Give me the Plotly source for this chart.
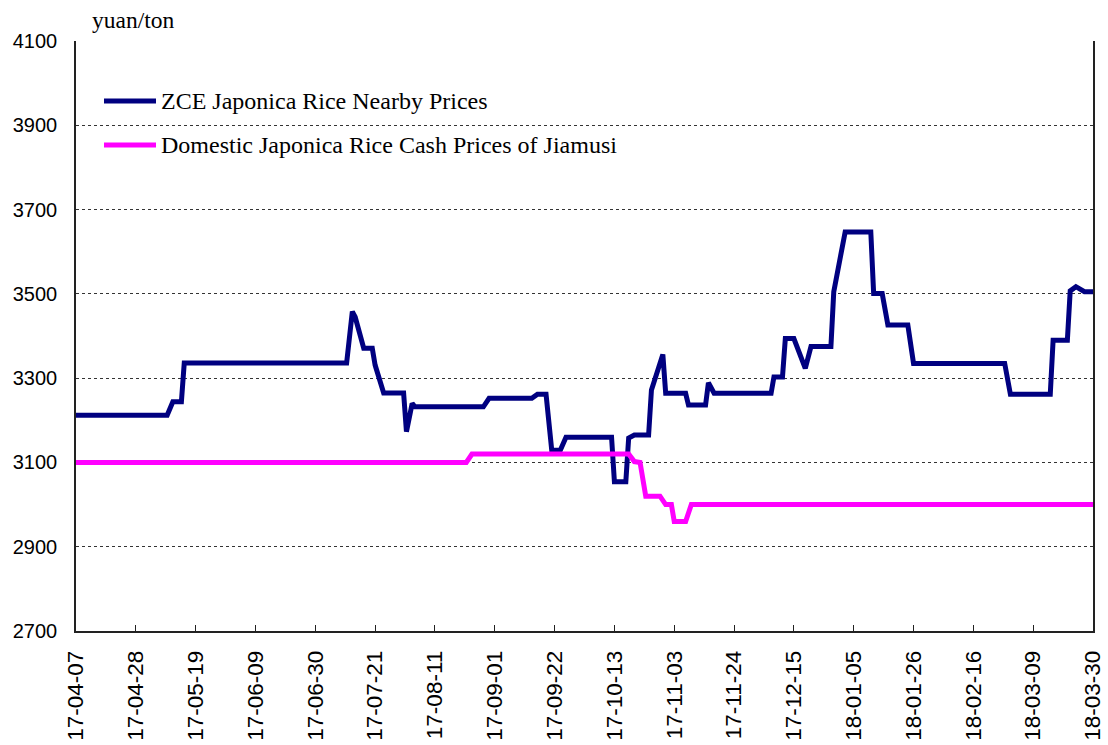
import plotly.graph_objects as go
from datetime import date, timedelta

# ---- data ----
zce_dates = [
    "2017-04-07", "2017-05-09", "2017-05-11", "2017-05-14", "2017-05-15",
    "2017-07-11", "2017-07-13", "2017-07-14", "2017-07-17", "2017-07-20",
    "2017-07-21", "2017-07-24", "2017-07-31", "2017-08-01", "2017-08-03",
    "2017-08-04", "2017-08-28", "2017-08-30", "2017-09-14", "2017-09-16",
    "2017-09-19", "2017-09-21", "2017-09-24", "2017-09-26", "2017-10-12",
    "2017-10-13", "2017-10-17", "2017-10-18", "2017-10-20", "2017-10-25",
    "2017-10-26", "2017-10-30", "2017-10-31", "2017-11-07", "2017-11-08",
    "2017-11-14", "2017-11-15", "2017-11-17", "2017-12-07", "2017-12-08",
    "2017-12-11", "2017-12-12", "2017-12-15", "2017-12-19", "2017-12-21",
    "2017-12-28", "2017-12-29", "2018-01-02", "2018-01-11", "2018-01-12",
    "2018-01-15", "2018-01-17", "2018-01-24", "2018-01-26", "2018-02-27",
    "2018-03-01", "2018-03-15", "2018-03-16", "2018-03-21", "2018-03-22",
    "2018-03-24", "2018-03-27", "2018-03-30",
]
zce_values = [
    3212, 3212, 3244, 3244, 3336,
    3336, 3458, 3445, 3371, 3371,
    3331, 3265, 3265, 3173, 3240,
    3232, 3232, 3252, 3252, 3262,
    3262, 3129, 3129, 3160, 3160,
    3054, 3054, 3158, 3165, 3165,
    3272, 3356, 3264, 3264, 3236,
    3236, 3289, 3264, 3264, 3303,
    3303, 3394, 3394, 3323, 3375,
    3375, 3505, 3647, 3647, 3501,
    3501, 3426, 3426, 3335, 3335,
    3262, 3262, 3390, 3390, 3507,
    3517, 3505, 3505,
]

cash_dates = [
    "2017-04-07", "2017-08-22", "2017-08-24", "2017-10-18", "2017-10-20",
    "2017-10-22", "2017-10-24", "2017-10-29", "2017-10-31", "2017-11-02",
    "2017-11-03", "2017-11-07", "2017-11-09", "2018-03-30",
]
cash_values = [
    3100, 3100, 3120, 3120, 3102,
    3100, 3020, 3020, 3000, 3000,
    2960, 2960, 3000, 3000,
]

series_names = ["ZCE Japonica Rice Nearby Prices",
                "Domestic Japonica Rice Cash Prices of Jiamusi"]
y_ticks = [2700, 2900, 3100, 3300, 3500, 3700, 3900, 4100]
x_start = date(2017, 4, 7)
x_tick_step_days = 21
x_tick_count = 18
x_tick_vals = [x_start + timedelta(days=x_tick_step_days * i) for i in range(x_tick_count)]
x_tick_text = [d.strftime("%y-%m-%d") for d in x_tick_vals]
unit_label = "yuan/ton"

NAVY = "#000080"
MAGENTA = "#FF00FF"
LW = 5

fig = go.Figure()
fig.add_trace(go.Scatter(x=zce_dates, y=zce_values, mode="lines",
                         line=dict(color=NAVY, width=LW), name=series_names[0],
                         showlegend=False))
fig.add_trace(go.Scatter(x=cash_dates, y=cash_values, mode="lines",
                         line=dict(color=MAGENTA, width=LW), name=series_names[1],
                         showlegend=False))

W, H = 1108, 745
L, R, T, B = 76, 15, 41, 114
pw, ph = W - L - R, H - T - B

def px_x(p):
    return (p - L) / pw

def px_y(p):
    return (H - B - p) / ph

shapes = [
    # white legend background
    dict(type="rect", xref="paper", yref="paper",
         x0=px_x(85), x1=px_x(632), y0=px_y(178), y1=px_y(68),
         fillcolor="white", line=dict(width=0), layer="between"),
    dict(type="line", xref="paper", yref="paper",
         x0=px_x(104), x1=px_x(156), y0=px_y(101), y1=px_y(101),
         line=dict(color=NAVY, width=LW)),
    dict(type="line", xref="paper", yref="paper",
         x0=px_x(104), x1=px_x(156), y0=px_y(145), y1=px_y(145),
         line=dict(color=MAGENTA, width=LW)),
]
serif = "Liberation Serif, Times New Roman, serif"
annotations = [
    dict(xref="paper", yref="paper", x=px_x(159), y=px_y(101), text=series_names[0],
         showarrow=False, xanchor="left", yanchor="middle",
         font=dict(family=serif, size=24, color="black")),
    dict(xref="paper", yref="paper", x=px_x(159), y=px_y(145), text=series_names[1],
         showarrow=False, xanchor="left", yanchor="middle",
         font=dict(family=serif, size=24, color="black")),
    dict(xref="paper", yref="paper", x=px_x(90), y=px_y(20), text=unit_label,
         showarrow=False, xanchor="left", yanchor="middle",
         font=dict(family=serif, size=23.5, color="black")),
]

fig.update_layout(
    width=W, height=H,
    margin=dict(l=L, r=R, t=T, b=B, pad=0, autoexpand=False),
    paper_bgcolor="white", plot_bgcolor="white",
    shapes=shapes, annotations=annotations,
    showlegend=False,
    xaxis=dict(
        type="date",
        automargin=False,
        range=[x_tick_vals[0], x_tick_vals[-1]],
        tickvals=x_tick_vals, ticktext=x_tick_text,
        tickangle=-90,
        ticks="inside", ticklen=6, tickcolor="#222", tickwidth=1,
        showgrid=False, zeroline=False,
        showline=True, linecolor="#222", linewidth=1.5,
        tickfont=dict(family="Liberation Sans, Arial, sans-serif", size=22.5, color="black"),
        ticklabelstandoff=9,
    ),
    yaxis=dict(
        automargin=False,
        range=[y_ticks[0], y_ticks[-1]],
        tickvals=y_ticks,
        ticks="",
        showgrid=True, gridcolor="#333", griddash="dot", gridwidth=1,
        zeroline=False,
        showline=True, linecolor="#222", linewidth=1.5, mirror=True,
        tickfont=dict(family="Liberation Sans, Arial, sans-serif", size=20, color="black"),
        ticklabelstandoff=13,
    ),
)

fig.write_html(
    "out.html",
    config={"responsive": False, "displayModeBar": False},
    post_script="document.body.style.margin='0';document.body.style.overflow='hidden';",
)
